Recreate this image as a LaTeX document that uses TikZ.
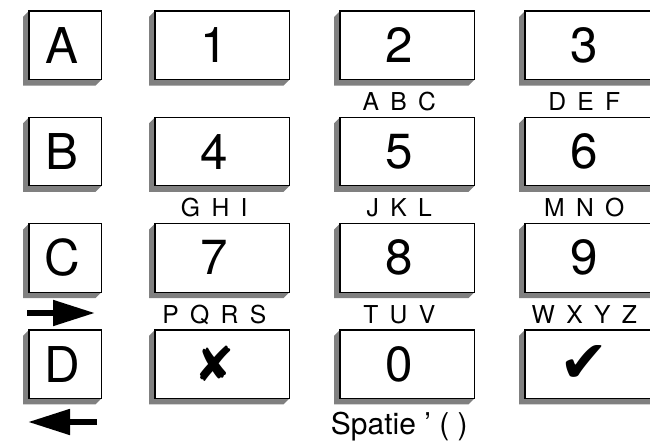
\documentclass[tikz,border=0pt]{standalone}
\usepackage{fontspec}
\setmainfont{TeX Gyre Heros}
\newfontfamily\symfont{DejaVu Sans}
\usetikzlibrary{calc, arrows.meta, positioning}
\newcommand{\spacedtext}[1]{\spaceskip=0.46em\relax #1}

\tikzset{
  keyface/.style={inner sep=0pt, anchor=north west, minimum height=51pt},
  letterkey/.style={keyface, minimum width=54pt},
  numkey/.style={keyface, minimum width=100.5pt},
  keyshade/.style={fill=black!50},
  keyrim/.style={draw=black, line width=0.9pt, fill=white},
  keytext/.style={font=\fontsize{37}{37}\selectfont, inner sep=0pt},
  sublabel/.style={font=\fontsize{18.5}{18.5}\selectfont, inner sep=0pt, anchor=base},
  bigarrow/.style={line width=4.5pt, -{Triangle[length=31.5pt, width=18.5pt]}}
}

\begin{document}
\begin{tikzpicture}[x=0.75pt, y=-0.75pt]
        \useasboundingbox (0,0) rectangle (650,442);
        \clip (0,0) rectangle (650,442);
        % letter keys
        \foreach \t [count=\i from 0] in {A,B,C,D} {
          \node[letterkey] (k\t) at (29, 11+106.3*\i) {};
          \fill[keyshade] (k\t.north west) -- ++(-6,6) -- ($(k\t.south west)+(-6,6)$)
            -- ($(k\t.south east)+(-6,6)$) -- (k\t.south east) -- cycle;
          \filldraw[keyrim] (k\t.north west) rectangle (k\t.south east);
          \node[keytext] (t\t) at ($(k\t.center)+(-3,0)$) {\t};
        }
        % number keys
        \foreach \n/\t/\c/\r in {1/1/0/0, 2/2/1/0, 3/3/2/0, 4/4/0/1, 5/5/1/1, 6/6/2/1,
            7/7/0/2, 8/8/1/2, 9/9/2/2, x/{\symfont\fontsize{36}{36}\selectfont ✘}/0/3,
            0/0/1/3, ok/{\symfont\fontsize{44}{44}\selectfont ✔}/2/3} {
          \node[numkey] (k\n) at (155+185*\c, 11+106.3*\r) {};
          \fill[keyshade] (k\n.north west) -- ++(-6,6) -- ($(k\n.south west)+(-6,6)$)
            -- ($(k\n.south east)+(-6,6)$) -- (k\n.south east) -- cycle;
          \filldraw[keyrim] (k\n.north west) rectangle (k\n.south east);
          \node[keytext] (t\n) at ($(k\n.center)+(-8,0)$) {\t};
        }
        % letters under keys
        \foreach \n/\t in {2/A B C, 3/D E F, 4/G H I, 5/J K L, 6/M N O, 7/P Q R S, 8/T U V, 9/W X Y Z} {
          \node[sublabel] (s\n) at ($(k\n.south)+(-8,31)$) {\spacedtext{\t}};
        }
        \node[sublabel, font=\fontsize{22.5}{22.5}\selectfont] (s0) at ($(k0.south)+(-8,36)$) {Spatie ' ( )};
        % arrows
        \coordinate (rtail) at (27,313);
        \coordinate (rhead) at (95,313);
        \coordinate (ltail) at (97,422);
        \coordinate (lhead) at (28,422);
        \draw[bigarrow] (rtail) -- (rhead);
        \draw[bigarrow] (ltail) -- (lhead);
\end{tikzpicture}
\end{document}
